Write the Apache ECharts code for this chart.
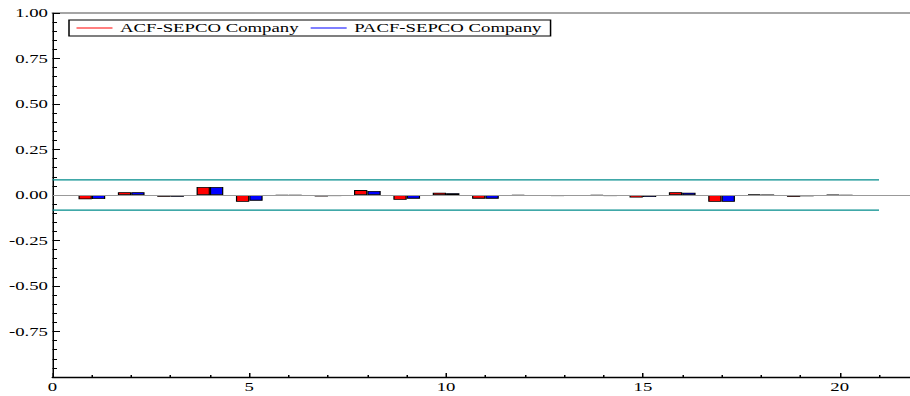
<!DOCTYPE html>
<html><head><meta charset="utf-8">
<script src="https://cdn.jsdelivr.net/npm/echarts@6/dist/echarts.min.js"></script>
<style>
html,body{margin:0;padding:0;background:#fff;overflow:hidden}
#wrap{width:910px;height:396px;overflow:hidden;position:relative}
#c{width:606.6667px;height:396px;transform:scaleX(1.5);transform-origin:0 0}
</style>
</head><body><div id="wrap"><div id="c"></div></div>
<script>
const lags = [1,2,3,4,5,6,7,8,9,10,11,12,13,14,15,16,17,18,19,20];
const acf  = [-0.024,0.015,-0.009,0.044,-0.037,-0.002,-0.008,0.027,-0.026,0.013,-0.020,-0.003,-0.006,-0.003,-0.014,0.015,-0.037,0.003,-0.010,0.002];
const pacf = [-0.022,0.015,-0.009,0.044,-0.031,-0.002,-0.006,0.022,-0.020,0.009,-0.020,-0.005,-0.004,-0.006,-0.011,0.013,-0.037,0.001,-0.007,-0.003];
const confBand = [0.0835, -0.0835];
const bandLags = [0, 21];
const xTickLabels = [0,5,10,15,20];
const xMinorTicks = [1,2,3,4,6,7,8,9,11,12,13,14,16,17,18,19,21];
const yTickLabels = [-0.75,-0.5,-0.25,0,0.25,0.5,0.75,1];
const seriesNames = ['ACF-SEPCO Company','PACF-SEPCO Company'];

const FONT = 'Liberation Serif';
const XMAX = 21.8;
const chart = echarts.init(document.getElementById('c'), null, {renderer:'svg'});
const baseX = {type:'value', min:0, max:XMAX, splitLine:{show:false}};
chart.setOption({
  animation:false,
  backgroundColor:'#fff',
  grid:{left:35, right:0, top:13, bottom:19, containLabel:false},
  legend:{
    left:46, top:20, orient:'horizontal',
    padding:[1,6,1,5], itemGap:8,
    itemWidth:24, itemHeight:1, icon:'rect',
    borderColor:'#000', borderWidth:1, backgroundColor:'#fff',
    itemStyle:{borderWidth:0},
    textStyle:{fontFamily:FONT, fontSize:12.5, color:'#000', lineHeight:14},
    data:[{name:seriesNames[0]},{name:seriesNames[1]}]
  },
  xAxis:[
    Object.assign({}, baseX, {
      position:'bottom',
      axisLine:{show:true, onZero:false, lineStyle:{color:'#000', width:1.3}},
      axisTick:{show:true, inside:true, length:4, customValues:xTickLabels, lineStyle:{color:'#000', width:1}},
      axisLabel:{show:true, customValues:xTickLabels, margin:3, fontFamily:FONT, fontSize:12.5, color:'#000'}
    }),
    Object.assign({}, baseX, {
      position:'bottom',
      axisLine:{show:false, onZero:false},
      axisTick:{show:true, inside:true, length:2, customValues:xMinorTicks, lineStyle:{color:'#000', width:1}},
      axisLabel:{show:false}
    }),
    Object.assign({}, baseX, {
      position:'top',
      axisLine:{show:true, onZero:false, lineStyle:{color:'#888', width:1.5}},
      axisTick:{show:false}, axisLabel:{show:false}
    })
  ],
  yAxis:{
    type:'value', min:-1, max:1, interval:0.25,
    axisLine:{show:true, onZero:false, lineStyle:{color:'#000', width:1}},
    axisTick:{show:true, inside:true, length:5, lineStyle:{color:'#000'}},
    minorTick:{show:true, splitNumber:5, length:3, lineStyle:{color:'#000'}},
    splitLine:{show:false},
    axisLabel:{customValues:yTickLabels, margin:3, fontFamily:FONT, fontSize:12.5, color:'#000',
      formatter:v=>v.toFixed(2)}
  },
  series:[
    {name:seriesNames[0], type:'bar', xAxisIndex:0, barWidth:8.9, barGap:'0%',
     itemStyle:{color:'#FF0000', borderColor:'#000', borderWidth:0.8},
     data:lags.map((l,i)=>[l, acf[i]]),
     markLine:{silent:true, symbol:'none', label:{show:false},
       lineStyle:{color:'#999', width:1, type:'solid'}, data:[{yAxis:0}]}},
    {name:seriesNames[1], type:'bar', xAxisIndex:0, barWidth:8.9, barGap:'0%',
     itemStyle:{color:'#0000FF', borderColor:'#000', borderWidth:0.8},
     data:lags.map((l,i)=>[l, pacf[i]])},
    {name:'band+', type:'line', xAxisIndex:0, symbol:'none', silent:true,
     lineStyle:{color:'#008B8B', width:1.2}, data:bandLags.map(x=>[x, confBand[0]])},
    {name:'band-', type:'line', xAxisIndex:0, symbol:'none', silent:true,
     lineStyle:{color:'#008B8B', width:1.2}, data:bandLags.map(x=>[x, confBand[1]])}
  ]
});
</script>
</body></html>
